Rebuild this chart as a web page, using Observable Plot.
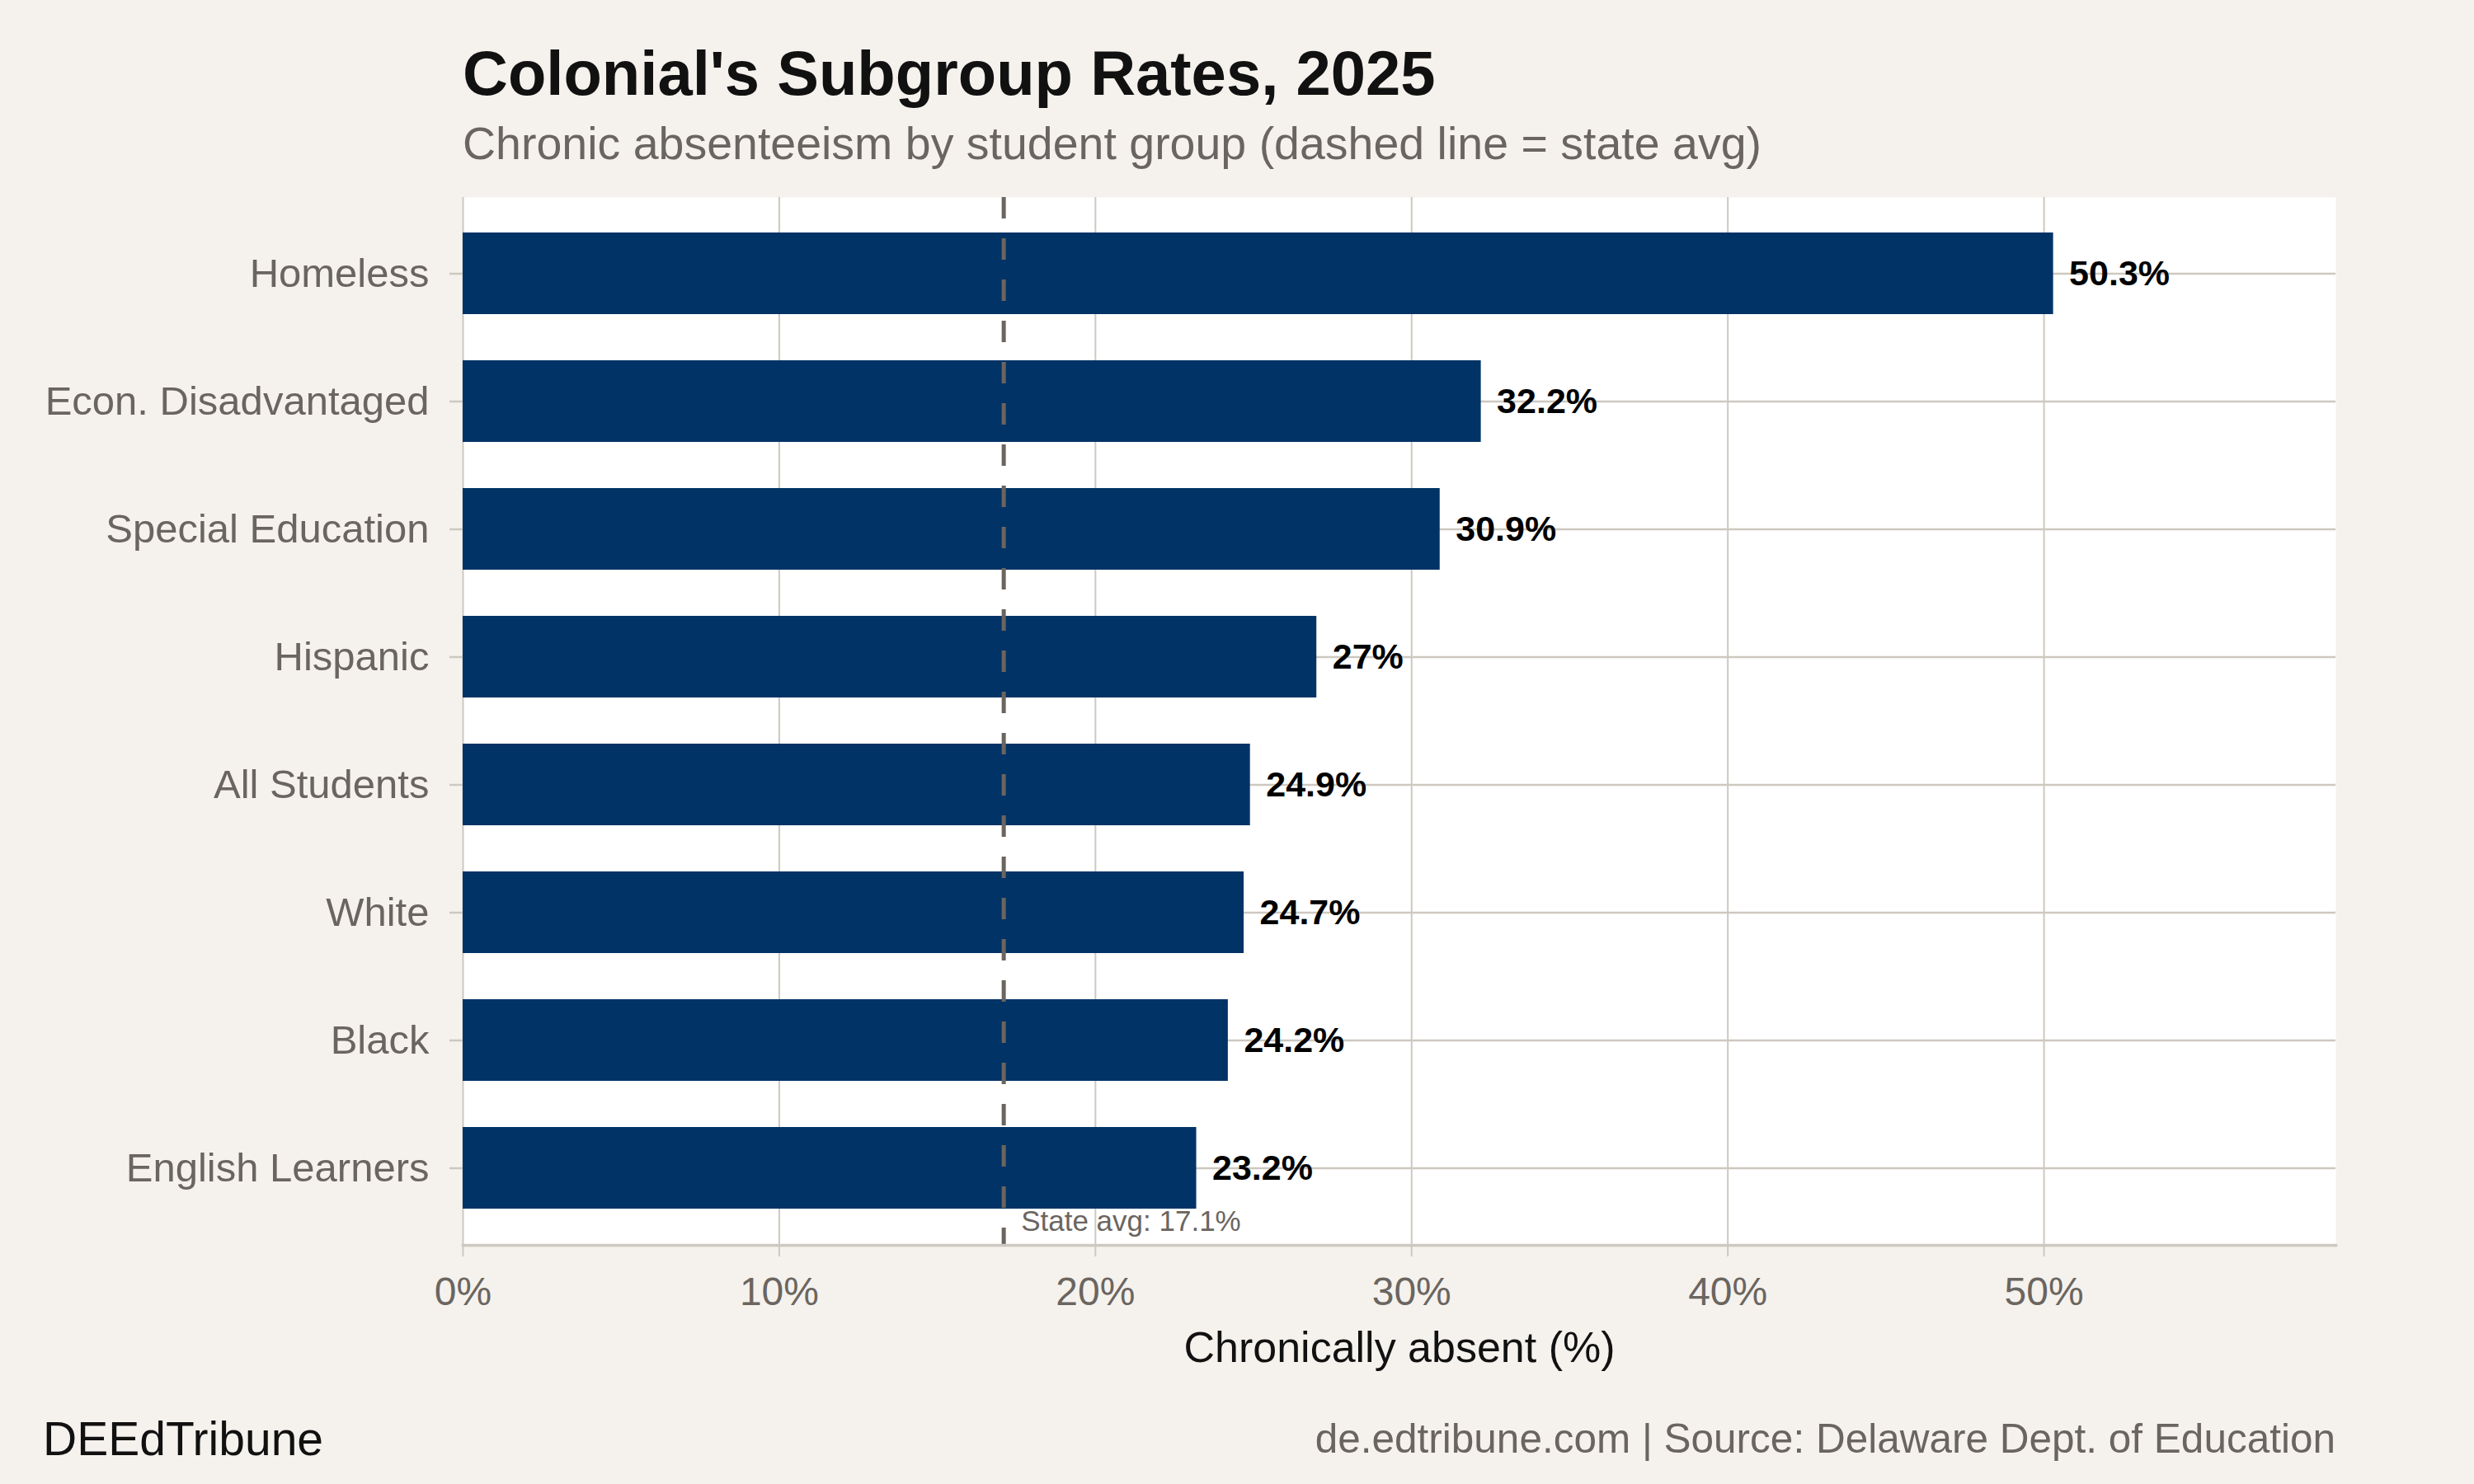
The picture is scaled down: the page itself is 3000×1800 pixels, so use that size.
<!DOCTYPE html>
<html>
<head>
<meta charset="utf-8">
<script src="https://cdn.jsdelivr.net/npm/d3@7"></script>
<script src="https://cdn.jsdelivr.net/npm/@observablehq/plot@0.6"></script>
<style>
  html, body { margin: 0; padding: 0; background: #f5f2ed; }
  #page { position: relative; width: 3000px; height: 1800px; background: #f5f2ed; font-family: "Liberation Sans", Arial, Helvetica, sans-serif; overflow: hidden; }
  .t { position: absolute; line-height: 1; white-space: nowrap; }
  #title { left: 561px; top: 51px; font-size: 76px; font-weight: bold; color: #111; }
  #subtitle { left: 561px; top: 147px; font-size: 55.5px; color: #6b6560; }
  #brand { left: 52px; top: 1717px; font-size: 57px; color: #111; }
  #source { right: 168px; top: 1720px; font-size: 49.5px; color: #6b6560; }
  #chart { position: absolute; left: 0; top: 210px; }
</style>
</head>
<body>
<div id="page">
  <div class="t" id="title">Colonial's Subgroup Rates, 2025</div>
  <div class="t" id="subtitle">Chronic absenteeism by student group (dashed line = state avg)</div>
  <div id="chart"></div>
  <div class="t" id="brand">DEEdTribune</div>
  <div class="t" id="source">de.edtribune.com | Source: Delaware Dept. of Education</div>
</div>
<script>
const groups = ["Homeless", "Econ. Disadvantaged", "Special Education", "Hispanic", "All Students", "White", "Black", "English Learners"];
const rates = [50.3, 32.2, 30.9, 27, 24.9, 24.7, 24.2, 23.2];
const rateLabels = ["50.3%", "32.2%", "30.9%", "27%", "24.9%", "24.7%", "24.2%", "23.2%"];
const xTicks = [0, 10, 20, 30, 40, 50];
const xTickLabels = ["0%", "10%", "20%", "30%", "40%", "50%"];
const stateAvg = 17.1;
const stateAvgLabel = "State avg: 17.1%";
const xTitle = "Chronically absent (%)";

const data = groups.map((g, i) => ({group: g, value: rates[i], label: rateLabels[i]}));

const gray = "#6b6560";
const grid = "#cdc8c0";
const barColor = "#023366";

const chart = Plot.plot({
  width: 3000,
  height: 1470,
  marginLeft: 561,
  marginRight: 168,
  marginTop: 29,
  marginBottom: 170,
  style: {background: "transparent", fontFamily: "'Liberation Sans', Arial, Helvetica, sans-serif"},
  x: {domain: [0, 59.23], axis: null},
  y: {domain: groups, paddingInner: 0.36, paddingOuter: 0.28, axis: null},
  marks: [
    Plot.frame({fill: "white", stroke: null}),
    Plot.gridX(xTicks, {stroke: grid, strokeOpacity: 1, strokeWidth: 2}),
    Plot.gridY(groups, {stroke: grid, strokeOpacity: 1, strokeWidth: 2.5}),
    Plot.barX(data, {x: "value", y: "group", fill: barColor}),
    Plot.ruleX([stateAvg], {stroke: gray, strokeWidth: 5, strokeDasharray: "26,24"}),
    Plot.frame({anchor: "bottom", stroke: grid, strokeWidth: 3.5}),
    Plot.axisX(xTicks, {
      tickFormat: (d) => xTickLabels[xTicks.indexOf(d)],
      tickSize: 14, tickPadding: 24, fontSize: 48, fill: gray, stroke: grid, strokeWidth: 2, label: null
    }),
    Plot.axisY(groups, {
      tickSize: 16, tickPadding: 25, fontSize: 49, fill: gray, stroke: grid, strokeWidth: 2.5, label: null
    }),
    Plot.text(data, {x: "value", y: "group", text: "label", dx: 19, textAnchor: "start", fontWeight: "bold", fontSize: 43, fill: "#000"}),
    Plot.text([stateAvg], {x: d => d, text: () => stateAvgLabel, frameAnchor: "bottom", dx: 21, dy: -18, textAnchor: "start", fontSize: 35, fill: gray}),
    Plot.text([xTitle], {text: d => d, frameAnchor: "bottom", dy: 141, fontSize: 52, fill: "#111"})
  ]
});
document.getElementById("chart").appendChild(chart);
</script>
</body>
</html>
